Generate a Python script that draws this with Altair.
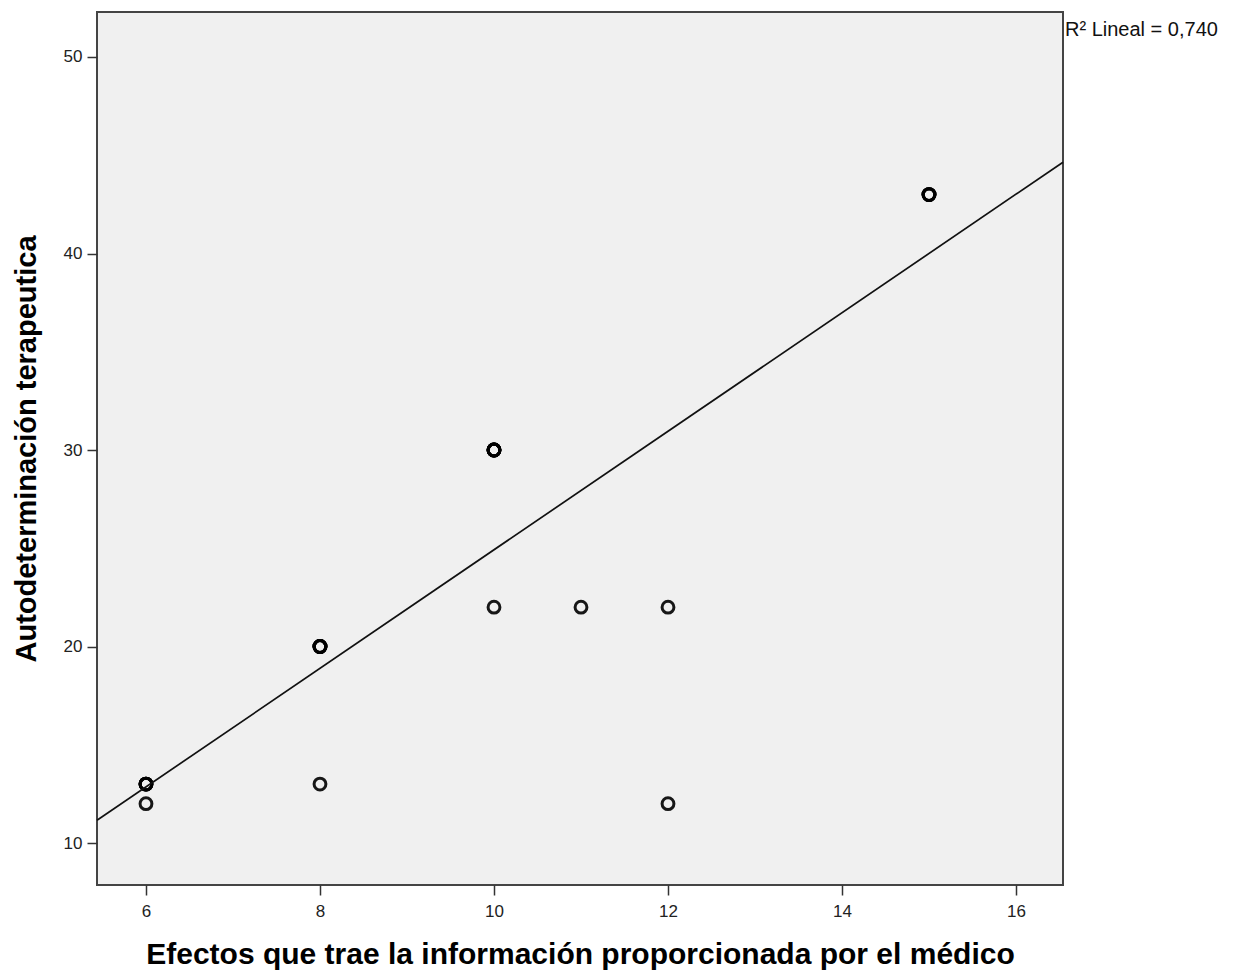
import altair as alt
import pandas as pd

# Observed combinations and how many cases share each one
efectos = [6, 6, 8, 8, 10, 10, 11, 12, 12, 15]
autodeterminacion = [13, 12, 20, 13, 30, 22, 22, 22, 12, 43]
casos = [4, 1, 5, 1, 5, 1, 1, 1, 1, 4]

x_ticks = [6, 8, 10, 12, 14, 16]
y_ticks = [10, 20, 30, 40, 50]
x_domain = [5.437, 16.54]
y_domain = [7.863, 52.29]

r2_label = ["R\u00b2 Lineal = 0,740"]

rows = []
for xv, yv, n in zip(efectos, autodeterminacion, casos):
    rows.extend([{"efectos": xv, "auto": yv}] * n)
df = pd.DataFrame(rows)

FONT = "Liberation Sans"

x_enc = alt.X(
    "efectos:Q",
    scale=alt.Scale(domain=x_domain, nice=False, zero=False),
    axis=alt.Axis(
        values=x_ticks, format="d",
        title="Efectos que trae la información proporcionada por el médico",
        titleFont=FONT, titleFontSize=30, titleFontWeight="bold", titleColor="#000",
        titlePadding=20,
        labelFont=FONT, labelFontSize=17, labelColor="#222", labelPadding=8,
        tickSize=10, tickColor="#333", tickWidth=1.5,
        domain=False, grid=False,
    ),
)
y_enc = alt.Y(
    "auto:Q",
    scale=alt.Scale(domain=y_domain, nice=False, zero=False),
    axis=alt.Axis(
        values=y_ticks, format="d",
        title="Autodeterminación terapeutica",
        titleFont=FONT, titleFontSize=29, titleFontWeight="bold", titleColor="#000",
        titlePadding=22,
        labelFont=FONT, labelFontSize=17, labelColor="#222", labelPadding=5,
        tickSize=10, tickColor="#333", tickWidth=1.5,
        domain=False, grid=False,
    ),
)

base = alt.Chart(df)

points = base.mark_point(
    shape="circle", filled=False, size=140, strokeWidth=3,
    color="#000", opacity=0.9,
).encode(x=x_enc, y=y_enc)

fit = base.transform_regression(
    "efectos", "auto", method="linear", extent=x_domain
).mark_line(color="#111", strokeWidth=1.7).encode(
    x=alt.X("efectos:Q"), y=alt.Y("auto:Q")
)

label = alt.Chart(pd.DataFrame({"t": r2_label, "x": [x_domain[1]], "y": [51.37]})).mark_text(
    align="left", baseline="middle", dx=2, font=FONT, fontSize=20, color="#111"
).encode(x=alt.X("x:Q"), y=alt.Y("y:Q"), text="t:N")

chart = alt.layer(points, fit, label).properties(
    width=966,
    height=873,
    autosize=alt.AutoSizeParams(type="none"),
    padding={"left": 97, "top": 12, "right": 183, "bottom": 95},
    background="#ffffff",
).configure_view(
    fill="#f0f0f0", stroke="#444", strokeWidth=2
)

chart.save("out.html", embed_options={"renderer": "svg", "actions": False})
